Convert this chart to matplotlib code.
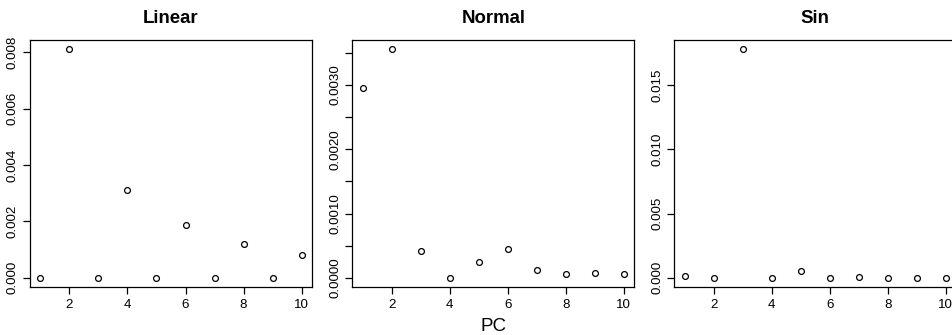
import matplotlib
matplotlib.use("Agg")
import matplotlib.pyplot as plt
from matplotlib.ticker import MultipleLocator, FuncFormatter

plt.rcParams['font.family'] = ['Liberation Sans', 'DejaVu Sans']

pc = [1, 2, 3, 4, 5, 6, 7, 8, 9, 10]

linear = [0.0, 0.00811, 0.0, 0.00313, 0.0, 0.00186, 0.0, 0.00120, 0.0, 0.00082]
normal = [0.00296, 0.00356, 0.000415, 0.0, 0.000243, 0.000452,
          0.000119, 0.000062, 0.000078, 0.000067]
sin_vals = [0.00018, 0.0, 0.01778, 0.0, 0.000546, 0.0, 0.00008, 0.0, 0.0, 0.0]

titles = ['Linear', 'Normal', 'Sin']
series = [linear, normal, sin_vals]
x_ticks = [2, 4, 6, 8, 10]
y_major = [0.002, 0.0005, 0.005]
y_labelled = [[0.0, 0.002, 0.004, 0.006, 0.008],
              [0.0, 0.001, 0.002, 0.003],
              [0.0, 0.005, 0.010, 0.015]]
y_fmt = ['%.3f', '%.4f', '%.3f']

fig = plt.figure(figsize=(9.52, 3.35), dpi=100)

lefts = [30 / 952, 352.3 / 952, 674.3 / 952]
bottom = 1 - 287 / 335
height = (287 - 40) / 335
width = 282 / 952

for i in range(3):
    ax = fig.add_axes([lefts[i], bottom, width, height])
    y = series[i]
    ax.plot(pc, y, linestyle='none', marker='o', markersize=4.2,
            markerfacecolor='white', markeredgecolor='black', markeredgewidth=0.9)
    lo, hi = min(y), max(y)
    pad = (hi - lo) * 0.04
    ax.set_xlim(0.64, 10.36)
    ax.set_ylim(lo - pad, hi + pad)
    ax.set_xticks(x_ticks)
    ax.yaxis.set_major_locator(MultipleLocator(y_major[i]))
    labs = y_labelled[i]
    fmt = y_fmt[i]
    ax.yaxis.set_major_formatter(FuncFormatter(
        lambda v, p, labs=labs, fmt=fmt: fmt % v if any(abs(v - l) < 1e-9 for l in labs) else ''))
    for lab in ax.get_yticklabels():
        lab.set_rotation(90)
        lab.set_va('center')
    ax.tick_params(axis='both', direction='out', length=5, width=0.9,
                   labelsize=9.6, pad=4)
    ax.tick_params(axis='y', pad=3)
    for sp in ax.spines.values():
        sp.set_linewidth(0.9)
    ax.set_title(titles[i], fontsize=13.4, fontweight='bold', pad=12.5)
    if i == 1:
        ax.set_xlabel('PC', fontsize=13.5, labelpad=4.5)

plt.savefig('out.png', dpi=100)
plt.close()
